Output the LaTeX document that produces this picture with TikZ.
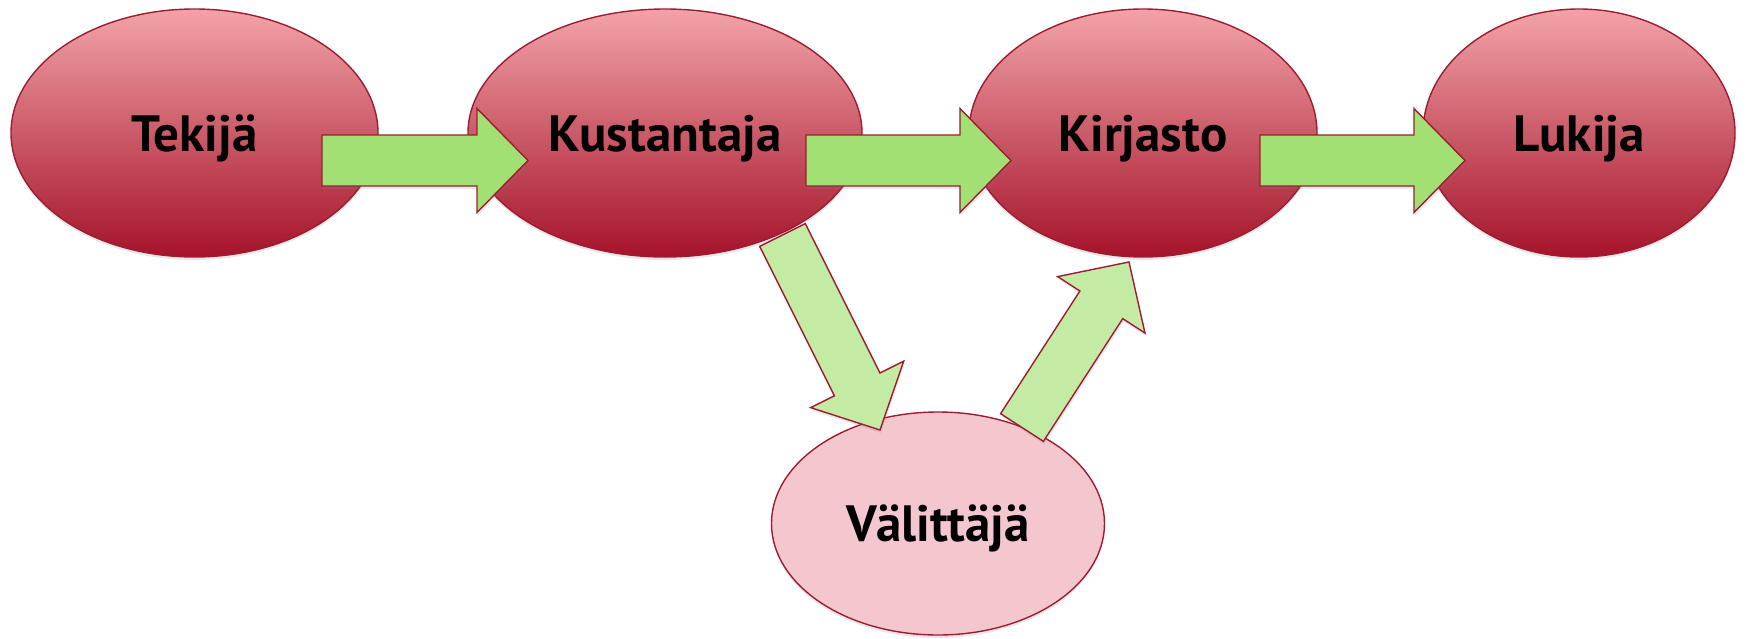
\documentclass[tikz,border=0pt]{standalone}
\usepackage{fontspec}
\setmainfont{PT Sans}
\usetikzlibrary{shapes.geometric,calc,shadows}
\definecolor{edgered}{HTML}{9E1C31}
\definecolor{pinktop}{HTML}{F2A3A8}
\definecolor{redbot}{HTML}{A5132A}
\definecolor{pinklight}{HTML}{F4C7CE}
\definecolor{greendark}{HTML}{A3E073}
\definecolor{greenlight}{HTML}{C3EBA3}
\tikzset{
  ellbase/.style={ellipse, draw=edgered, line width=1.4pt, inner sep=0pt,
    font=\fontsize{51}{54}\selectfont\bfseries, text height=36pt, text depth=0pt,
    drop shadow={shadow xshift=0pt, shadow yshift=-3pt, opacity=0.18}},
  redell/.style={ellbase, minimum height=248pt, top color=pinktop, bottom color=redbot},
  lightell/.style={ellbase, minimum height=223pt, fill=pinklight},
  blockarrow/.style={draw=edgered, line width=1.4pt, line join=miter,
    drop shadow={shadow xshift=1pt, shadow yshift=-3pt, opacity=0.18},
    to path={
      ($(\tikztostart)!25.5pt!90:(\tikztotarget)$)
      -- ($(\tikztotarget)!51pt!(\tikztostart)!25.5pt!90:(\tikztotarget)$)
      -- ($(\tikztotarget)!51pt!(\tikztostart)!52pt!90:(\tikztotarget)$)
      -- (\tikztotarget)
      -- ($(\tikztotarget)!51pt!(\tikztostart)!52pt!-90:(\tikztotarget)$)
      -- ($(\tikztotarget)!51pt!(\tikztostart)!25.5pt!-90:(\tikztotarget)$)
      -- ($(\tikztostart)!25.5pt!-90:(\tikztotarget)$)
      -- cycle}},
  hgreen/.style={blockarrow, fill=greendark},
  dgreen/.style={blockarrow, fill=greenlight}
}
\begin{document}
\begin{tikzpicture}[x=1pt,y=-1pt]
\useasboundingbox (0,0) rectangle (1746,638);
\node[redell, minimum width=367pt] (tek) at (194.5,133) {Tekijä};
\node[redell, minimum width=394pt] (kus) at (665,133) {Kustantaja};
\node[redell, minimum width=348pt] (kir) at (1143,133) {Kirjasto};
\node[redell, minimum width=312pt] (luk) at (1579,133) {Lukija};
\node[lightell, minimum width=333pt] (val) at (938,523.5) {Välittäjä};
\coordinate (a1s) at (322,160.5);  \coordinate (a1t) at (528,160.5);
\coordinate (a2s) at (806,160.5);  \coordinate (a2t) at (1011,160.5);
\coordinate (a3s) at (1260,160.5); \coordinate (a3t) at (1465,160.5);
\coordinate (a4s) at (782.5,235);  \coordinate (a4t) at (880,430);
\coordinate (a5s) at (1022,427.5); \coordinate (a5t) at (1129,262);
\draw[hgreen] (a1s) to (a1t);
\draw[hgreen] (a2s) to (a2t);
\draw[hgreen] (a3s) to (a3t);
\draw[dgreen] (a4s) to (a4t);
\draw[dgreen] (a5s) to (a5t);
\end{tikzpicture}
\end{document}
